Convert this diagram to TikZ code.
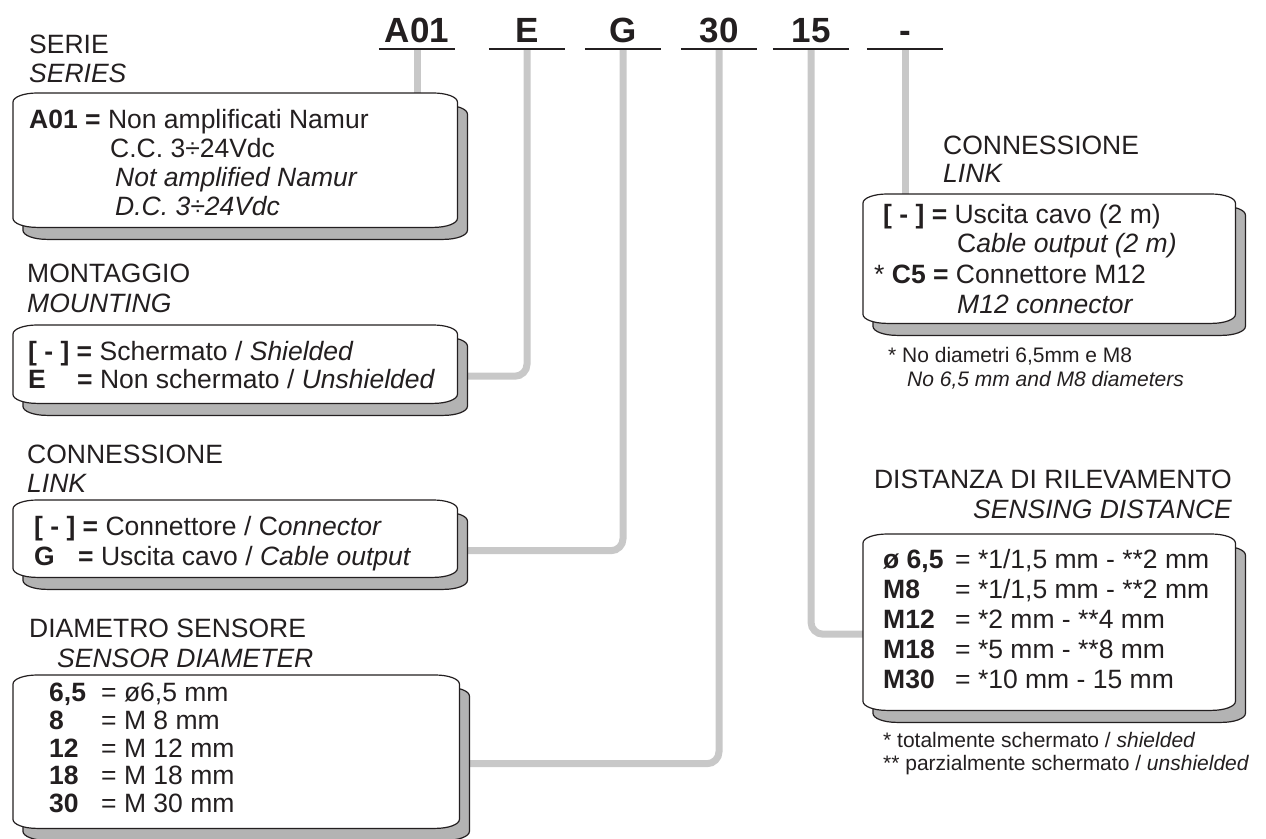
\documentclass[tikz,border=0pt]{standalone}
\usepackage{fontspec}
\setmainfont{Liberation Sans}
\usetikzlibrary{calc, positioning}

\definecolor{inkblack}{HTML}{231F20}
\definecolor{linkgray}{HTML}{C8C8C8}
\definecolor{shadowgray}{HTML}{B3B3B3}

% outline of a card: rectangle with flat elliptic corners
\newcommand{\cardpath}[1]{($(#1.north west)+(0,9)$) -- ($(#1.south west)+(0,-9)$)
  arc[start angle=180,end angle=270,x radius=24pt,y radius=9pt] -- ($(#1.south east)+(-24,0)$)
  arc[start angle=270,end angle=360,x radius=24pt,y radius=9pt] -- ($(#1.north east)+(0,9)$)
  arc[start angle=0,end angle=90,x radius=24pt,y radius=9pt] -- ($(#1.north west)+(24,0)$)
  arc[start angle=90,end angle=180,x radius=24pt,y radius=9pt] -- cycle}

\begin{document}
\begin{tikzpicture}[x=1pt, y=-1pt,
  every node/.style={inner sep=0pt, text=inkblack},
  code/.style={anchor=base, font=\fontsize{35pt}{40pt}\selectfont\bfseries, minimum width=76pt, text depth=7pt},
  uline/.style={line width=2.5pt, draw=inkblack},
  link/.style={line width=7pt, draw=linkgray, rounded corners=12pt},
  cardbox/.style 2 args={anchor=north west, minimum width=#1, minimum height=#2},
  card/.style={fill=white, draw=inkblack, line width=1.2pt},
  cardshadow/.style={fill=shadowgray, draw=inkblack, line width=1.2pt},
  txt/.style={anchor=base west, font=\fontsize{26.5pt}{29pt}\selectfont},
  note/.style={anchor=base west, font=\fontsize{21pt}{24pt}\selectfont}]
\useasboundingbox (0,0) rectangle (1266,838);

% code letters
\node[code] (cA01) at (417,42) {A01};
\node[code] (cE) at (527,42) {E};
\node[code] (cG) at (623,42) {G};
\node[code] (c30) at (719,42) {30};
\node[code] (c15) at (811,42) {15};
\node[code] (cDash) at (905,42) {-};

% card areas and their shadows
\node[cardbox={444pt}{134pt}] (bSerie) at (13,93) {};
\node[cardbox={444pt}{78pt}] (bMont) at (13,325) {};
\node[cardbox={444pt}{77pt}] (bConn) at (13,500) {};
\node[cardbox={446pt}{153pt}] (bDiam) at (13,675) {};
\node[cardbox={372pt}{129pt}] (bLink) at (863,194) {};
\node[cardbox={372pt}{176pt}] (bDist) at (863,534) {};
\node[cardbox={444pt}{134pt}] (sSerie) at ($(bSerie.north west)+(10,12)$) {};
\node[cardbox={444pt}{78pt}] (sMont) at ($(bMont.north west)+(10,12)$) {};
\node[cardbox={444pt}{77pt}] (sConn) at ($(bConn.north west)+(10,12)$) {};
\node[cardbox={446pt}{153pt}] (sDiam) at ($(bDiam.north west)+(10,12)$) {};
\node[cardbox={372pt}{129pt}] (sLink) at ($(bLink.north west)+(10,12)$) {};
\node[cardbox={372pt}{176pt}] (sDist) at ($(bDist.north west)+(10,12)$) {};

% connectors
\draw[link] (cA01.south) -- (cA01.south |- bSerie.north);
\draw[link] (cE.south) |- (sMont.east);
\draw[link] (cG.south) |- (sConn.east);
\draw[link] (c30.south) |- (sDiam.east);
\draw[link] (c15.south) |- (sDist.west);
\draw[link] (cDash.south) -- (cDash.south |- bLink.north);

\foreach \c in {cA01,cE,cG,c30,c15,cDash}
  \draw[uline] (\c.south west) -- (\c.south east);

\foreach \b/\s in {bSerie/sSerie,bMont/sMont,bConn/sConn,bDiam/sDiam,bLink/sLink,bDist/sDist}{
  \filldraw[cardshadow] \cardpath{\s};
  \filldraw[card] \cardpath{\b};
}

% headings
\node[txt] (hSerie) at (29,53) {SERIE};
\node[txt] (hSerieEn) at (29,82) {\itshape SERIES};
\node[txt] (hMont) at (27,282) {MONTAGGIO};
\node[txt] (hMontEn) at (27,312) {\itshape MOUNTING};
\node[txt] (hConn) at (27,463) {CONNESSIONE};
\node[txt] (hConnEn) at (27,492) {\itshape LINK};
\node[txt] (hDiam) at (29,637) {DIAMETRO SENSORE};
\node[txt] (hDiamEn) at (57,667) {\itshape SENSOR DIAMETER};
\node[txt] (hLink) at (943,154) {CONNESSIONE};
\node[txt] (hLinkEn) at (943,182) {\itshape LINK};
\node[txt, anchor=base east] (hDist) at (1232,488) {DISTANZA DI RILEVAMENTO};
\node[txt, anchor=base east] (hDistEn) at (1232,518) {\itshape SENSING DISTANCE};

% serie
\node[txt] (tSerie1) at (29,128) {\textbf{A01 =} Non amplificati Namur};
\node[txt] (tSerie2) at (110,157) {C.C. 3÷24Vdc};
\node[txt] (tSerie3) at (115,186) {\itshape Not amplified Namur};
\node[txt] (tSerie4) at (115,215) {\itshape D.C. 3÷24Vdc};

% montaggio
\node[txt] (tMont1) at (28,360) {\textbf{[ - ] =} Schermato / \textit{Shielded}};
\node[txt] (kMont2) at (28,388) {\bfseries E};
\node[txt] (tMont2) at (77,388) {\textbf{=} Non schermato / \textit{Unshielded}};

% connessione (left)
\node[txt] (tConn1) at (34,535) {\textbf{[ - ] =} Connettore / C\textit{onnector}};
\node[txt] (kConn2) at (34,565) {\bfseries G};
\node[txt] (tConn2) at (78,565) {\textbf{=} Uscita cavo / \textit{Cable output}};

% diametro
\node[txt] (kDiam1) at (49,701) {\bfseries 6,5};
\node[txt] (tDiam1) at (101,701) {= ø6,5 mm};
\node[txt] (kDiam2) at (49,729) {\bfseries 8};
\node[txt] (tDiam2) at (101,729) {= M 8 mm};
\node[txt] (kDiam3) at (49,757) {\bfseries 12};
\node[txt] (tDiam3) at (101,757) {= M 12 mm};
\node[txt] (kDiam4) at (49,784) {\bfseries 18};
\node[txt] (tDiam4) at (101,784) {= M 18 mm};
\node[txt] (kDiam5) at (49,812) {\bfseries 30};
\node[txt] (tDiam5) at (101,812) {= M 30 mm};

% connessione (right)
\node[txt] (tLink1) at (883,223) {\textbf{[ - ] =} Uscita cavo (2 m)};
\node[txt] (tLink2) at (957,252) {C\textit{able output (2 m)}};
\node[txt] (tLink3) at (874,283) {* \textbf{C5 =} Connettore M12};
\node[txt] (tLink4) at (957,313) {\itshape M12 connector};
\node[note] (nLink1) at (888,362) {* No diametri 6,5mm e M8};
\node[note] (nLink2) at (907,386) {\itshape No 6,5 mm and M8 diameters};

% distanza
\node[txt] (kDist1) at (883,568) {\bfseries ø 6,5};
\node[txt] (tDist1) at (955,568) {= *1/1,5 mm - **2 mm};
\node[txt] (kDist2) at (883,598) {\bfseries M8};
\node[txt] (tDist2) at (955,598) {= *1/1,5 mm - **2 mm};
\node[txt] (kDist3) at (883,628) {\bfseries M12};
\node[txt] (tDist3) at (955,628) {= *2 mm - **4 mm};
\node[txt] (kDist4) at (883,658) {\bfseries M18};
\node[txt] (tDist4) at (955,658) {= *5 mm - **8 mm};
\node[txt] (kDist5) at (883,688) {\bfseries M30};
\node[txt] (tDist5) at (955,688) {= *10 mm - 15 mm};
\node[note] (nDist1) at (883,747) {* totalmente schermato / \textit{shielded}};
\node[note] (nDist2) at (883,770) {** parzialmente schermato / \textit{unshielded}};
\end{tikzpicture}
\end{document}
